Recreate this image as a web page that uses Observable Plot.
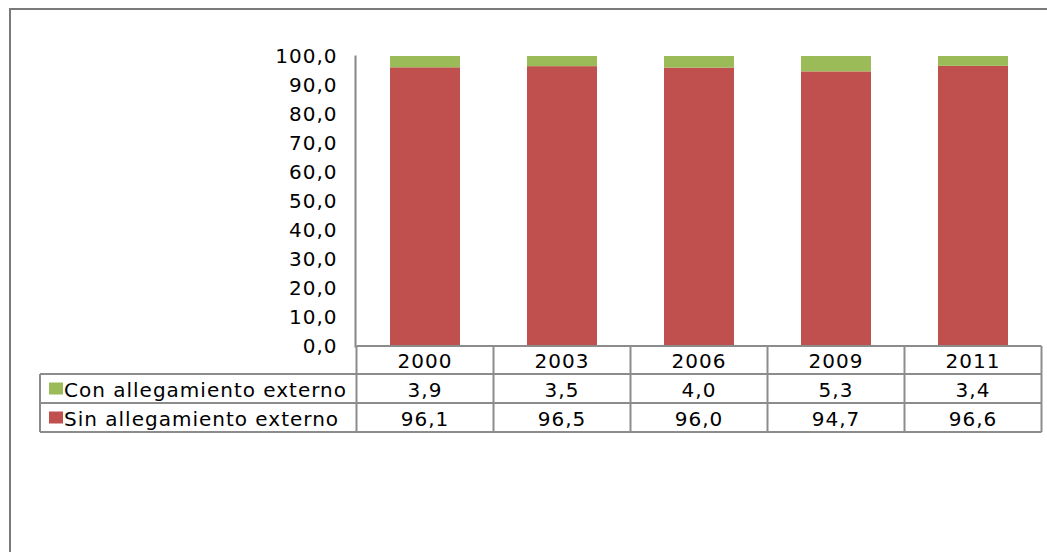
<!DOCTYPE html>
<html><head><meta charset="utf-8">
<script src="https://cdn.jsdelivr.net/npm/d3@7"></script>
<script src="https://cdn.jsdelivr.net/npm/@observablehq/plot@0.6"></script>
<style>
body{margin:0;background:#fff;}
#wrap{position:relative;width:1047px;height:552px;overflow:hidden;background:#fff;}
#frame{position:absolute;left:9px;top:8px;width:1100px;height:600px;border-left:2px solid #7a7a7a;border-top:2px solid #7a7a7a;}
#chart{position:absolute;left:0;top:0;}
</style></head><body>
<div id="wrap"><div id="frame"></div><div id="chart"></div></div>
<script>
const years = ["2000", "2003", "2006", "2009", "2011"];
const con = [3.9, 3.5, 4.0, 5.3, 3.4];
const sin = [96.1, 96.5, 96.0, 94.7, 96.6];
const seriesNames = ["Sin allegamiento externo", "Con allegamiento externo"];
const seriesColors = ["#C0504D", "#9BBB59"];
const yTicks = [0, 10, 20, 30, 40, 50, 60, 70, 80, 90, 100];

const fmt = v => v.toFixed(1).replace(".", ",");
const FONT = "DejaVu Sans, Verdana, sans-serif";
const FS = 20;
const LS = "1px";

const data = [];
years.forEach((y, i) => data.push({year: y, series: seriesNames[0], value: sin[i]}));
years.forEach((y, i) => data.push({year: y, series: seriesNames[1], value: con[i]}));

const plot = Plot.plot({
  width: 1047, height: 552,
  marginLeft: 355, marginRight: 4, marginTop: 56, marginBottom: 206,
  style: {fontFamily: FONT, fontSize: FS + "px", background: "transparent", letterSpacing: LS, color: "#000"},
  x: {domain: years, paddingInner: 0.49, paddingOuter: 0.245, axis: null},
  y: {domain: [0, 100], axis: null},
  color: {domain: seriesNames, range: seriesColors},
  marks: [
    Plot.barY(data, {x: "year", y: "value", fill: "series"}),
    Plot.axisY({ticks: yTicks, tickFormat: fmt, tickSize: 0, tickPadding: 3, dx: -15, label: null, fontSize: FS, fill: "#000"}),
    Plot.frame({anchor: "left", stroke: "#868686", strokeWidth: 2})
  ]
});
document.getElementById("chart").appendChild(plot);

// data table below the plot, positioned with the plot's own scales
const xs = plot.scale("x"), ys = plot.scale("y");
const step = xs.step, bw = xs.bandwidth;
const centers = years.map(y => xs.apply(y) + bw / 2);
const edges = [centers[0] - step / 2, ...centers.map(c => c + step / 2)];
const y0 = ys.apply(0);
const rowH = [28, 29, 29];
const rowTops = [y0, y0 + rowH[0], y0 + rowH[0] + rowH[1]];
const yEnd = rowTops[2] + rowH[2];
const legendLeft = 40;
const axisX = edges[0];
const rightX = edges[edges.length - 1];

const svg = d3.select(plot);
const g = svg.append("g").attr("font-family", FONT).attr("font-size", FS).style("letter-spacing", LS);
const lineColor = "#8c8c8c";
const line = (x1, y1, x2, y2) => g.append("line").attr("x1", x1).attr("y1", y1).attr("x2", x2).attr("y2", y2)
  .attr("stroke", lineColor).attr("stroke-width", 2);

line(axisX, y0, rightX, y0);
line(legendLeft, rowTops[1], rightX, rowTops[1]);
line(legendLeft, rowTops[2], rightX, rowTops[2]);
line(legendLeft, yEnd, rightX, yEnd);
line(legendLeft, rowTops[1], legendLeft, yEnd);
edges.forEach(e => line(e, y0, e, yEnd));

// header row (categories)
years.forEach((y, i) => {
  g.append("text").attr("x", centers[i]).attr("y", rowTops[0] + rowH[0] / 2 + 1)
    .attr("text-anchor", "middle").attr("dominant-baseline", "central").attr("fill", "#000").text(y);
});

// value rows: Con first, then Sin
const tableRows = [
  {name: seriesNames[1], color: seriesColors[1], values: con},
  {name: seriesNames[0], color: seriesColors[0], values: sin}
];
tableRows.forEach((r, k) => {
  const top = rowTops[k + 1], cy = top + rowH[k + 1] / 2;
  g.append("rect").attr("x", legendLeft + 9).attr("y", cy - 6).attr("width", 14).attr("height", 12).attr("fill", r.color);
  g.append("text").attr("x", legendLeft + 24).attr("y", cy + 1).attr("text-anchor", "start").attr("dominant-baseline", "central")
    .attr("fill", "#000").text(r.name);
  r.values.forEach((v, i) => {
    g.append("text").attr("x", centers[i]).attr("y", cy + 1).attr("text-anchor", "middle")
      .attr("dominant-baseline", "central").attr("fill", "#000").text(fmt(v));
  });
});
</script>
</body></html>
